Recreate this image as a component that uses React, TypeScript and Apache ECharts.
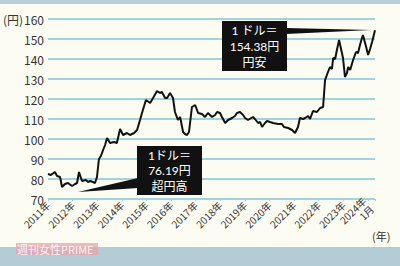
import React, { useEffect, useRef } from "react";
import * as echarts from "echarts";

const times: number[] = [
  2011.0, 2011.12, 2011.28, 2011.37, 2011.49, 2011.57, 2011.69, 2011.81, 2011.98,
  2012.1, 2012.18, 2012.26, 2012.38, 2012.54, 2012.63, 2012.71, 2012.83, 2012.91, 2012.99,
  2013.07, 2013.15, 2013.24, 2013.32, 2013.4, 2013.52, 2013.68, 2013.8, 2013.93,
  2014.05, 2014.21, 2014.33, 2014.5, 2014.62, 2014.74, 2014.82, 2014.98,
  2015.15, 2015.27, 2015.43, 2015.55, 2015.63, 2015.76, 2015.84, 2015.96,
  2016.08, 2016.16, 2016.28, 2016.37, 2016.49, 2016.57, 2016.65, 2016.73, 2016.85, 2016.98,
  2017.1, 2017.26, 2017.38, 2017.5, 2017.67, 2017.79, 2017.87, 2017.99,
  2018.07, 2018.2, 2018.32, 2018.48, 2018.6, 2018.68, 2018.8, 2018.93,
  2019.01, 2019.13, 2019.33, 2019.41, 2019.54, 2019.62, 2019.7, 2019.82, 2019.9,
  2020.02, 2020.15, 2020.35, 2020.51, 2020.59, 2020.76, 2020.92,
  2021.04, 2021.16, 2021.24, 2021.37, 2021.45, 2021.57, 2021.65, 2021.77, 2021.93,
  2022.06, 2022.18, 2022.26, 2022.38, 2022.46, 2022.54, 2022.59, 2022.67, 2022.75, 2022.83, 2022.91, 2022.99,
  2023.07, 2023.15, 2023.2, 2023.28, 2023.4, 2023.52, 2023.6, 2023.68, 2023.76, 2023.8, 2023.93,
  2024.01, 2024.09, 2024.17, 2024.29,
];

const rates: number[] = [
  82.5, 82, 83.5, 81.5, 81, 76, 77.5, 78, 76.5,
  77.5, 78, 83.5, 79, 79.5, 78.5, 79, 78.5, 78, 81,
  90, 91.5, 94.5, 97, 100.5, 98, 98.5, 98, 105,
  102, 103, 102, 103, 104.5, 109.5, 113, 119.5,
  118, 120.5, 124, 123, 123.5, 120.5, 120.5, 123,
  120.5, 113.5, 109.5, 111, 103.5, 102.5, 102, 103.5, 116, 117,
  113, 112.5, 111, 113, 111, 112, 113.5, 113,
  111, 108, 109.5, 110.5, 111.5, 113, 113.5, 112,
  110.5, 109.5, 111, 110, 108, 108.5, 106, 108, 109,
  108.5, 108, 107.5, 107.5, 106, 105.5, 104.5,
  103, 106, 110.5, 110, 110.5, 111.5, 110, 114, 113.5,
  115.5, 116, 129.5, 133.5, 136, 135, 140.5, 140, 145, 149.5, 145, 140.5,
  131, 133, 136, 134.5, 139.5, 143.5, 143, 147, 150.5, 152, 146,
  142, 145, 148.5, 154.38,
];

const yTicks = { min: 70, max: 160, step: 10 };
const xYears = { min: 2011, max: 2024.29 };

const noteHigh = ["1 ドル＝", "154.38円", "円安"];
const noteLow = ["1ドル＝", "76.19円", "超円高"];

const FONT = '"Noto Sans CJK JP", "Noto Sans", sans-serif';
const NOTE_FONT = 'Lato, "Noto Sans CJK JP", sans-serif';
const GRID_COLOR = "#9fd3de";

export default function App() {
  const ref = useRef<HTMLDivElement>(null);

  useEffect(() => {
    if (!ref.current) return;
    const chart = echarts.init(ref.current, undefined, { renderer: "svg" });
    const data = times.map((t, i) => [t, rates[i]]);

    const noteText = (lines: string[], cx: number, top: number, step: number) =>
      lines.map((t, i) => ({
        type: "text",
        x: cx,
        y: top + i * step,
        z: 11,
        style: {
          text: t,
          fontSize: 12,
          fill: "#fff",
          fontFamily: NOTE_FONT,
          align: "center",
          verticalAlign: "middle",
        },
      }));

    chart.setOption({
      animation: false,
      backgroundColor: "#fdfcf2",
      textStyle: { fontFamily: FONT },
      grid: { left: 48, right: 25, top: 19, bottom: 67 },
      xAxis: {
        type: "value",
        min: xYears.min,
        max: xYears.max,
        interval: 1,
        axisLine: { show: false },
        axisTick: { show: true, length: 2, lineStyle: { color: GRID_COLOR } },
        splitLine: { show: false },
        axisLabel: {
          rotate: 45,
          fontSize: 10,
          color: "#333",
          margin: 4,
          fontFamily: FONT,
          lineHeight: 11,
          formatter: (v: number) =>
            v === 2024 ? "2024年\n1月" : Number.isInteger(v) ? `${v}年` : "",
        },
      },
      yAxis: {
        type: "value",
        min: yTicks.min,
        max: yTicks.max,
        interval: yTicks.step,
        axisLine: { show: false },
        axisTick: { show: false },
        splitLine: { show: true, lineStyle: { color: GRID_COLOR, width: 2 } },
        axisLabel: { fontSize: 12, color: "#333", margin: 4, fontFamily: FONT },
      },
      series: [
        {
          type: "line",
          data,
          showSymbol: false,
          symbol: "none",
          lineStyle: { color: "#111", width: 2 },
          z: 3,
        },
      ],
      graphic: [
        { type: "rect", shape: { x: 0, y: 0, width: 400, height: 4 }, style: { fill: "#b7cfd7" }, z: -1 },
        { type: "rect", shape: { x: 0, y: 247, width: 400, height: 19 }, style: { fill: "#b4ccd5" }, z: -1 },
        {
          type: "text",
          x: 3,
          y: 19,
          style: { text: "(円)", fontSize: 12, fill: "#333", fontFamily: FONT, verticalAlign: "middle" },
        },
        {
          type: "text",
          x: 372,
          y: 236,
          style: { text: "(年)", fontSize: 11, fill: "#333", fontFamily: FONT, verticalAlign: "middle" },
        },
        // high note
        { type: "polygon", shape: { points: [[286, 28], [286, 34], [371, 30]] }, style: { fill: "#111" }, z: 10 },
        { type: "rect", shape: { x: 222, y: 21, width: 65, height: 50 }, style: { fill: "#111" }, z: 10 },
        ...noteText(noteHigh, 254.5, 30, 16),
        // low note
        { type: "polygon", shape: { points: [[138, 178], [138, 188], [78, 192]] }, style: { fill: "#111" }, z: 10 },
        { type: "rect", shape: { x: 137, y: 146, width: 65, height: 49 }, style: { fill: "#111" }, z: 10 },
        ...noteText(noteLow, 169.5, 155, 15.5),
        // watermark
        { type: "rect", shape: { x: 16, y: 243, width: 82, height: 12 }, style: { fill: "#e8a3ab", opacity: 0.75 }, z: 12 },
        {
          type: "text",
          x: 17,
          y: 249,
          z: 13,
          style: {
            text: "週刊女性PRIME",
            fontSize: 11,
            fill: "#fff",
            fontFamily: FONT,
            verticalAlign: "middle",
            opacity: 0.9,
          },
        },
      ],
    });

    return () => chart.dispose();
  }, []);

  return (
    <div
      ref={ref}
      style={{ position: "fixed", left: 0, top: 0, width: 400, height: 266 }}
    />
  );
}
